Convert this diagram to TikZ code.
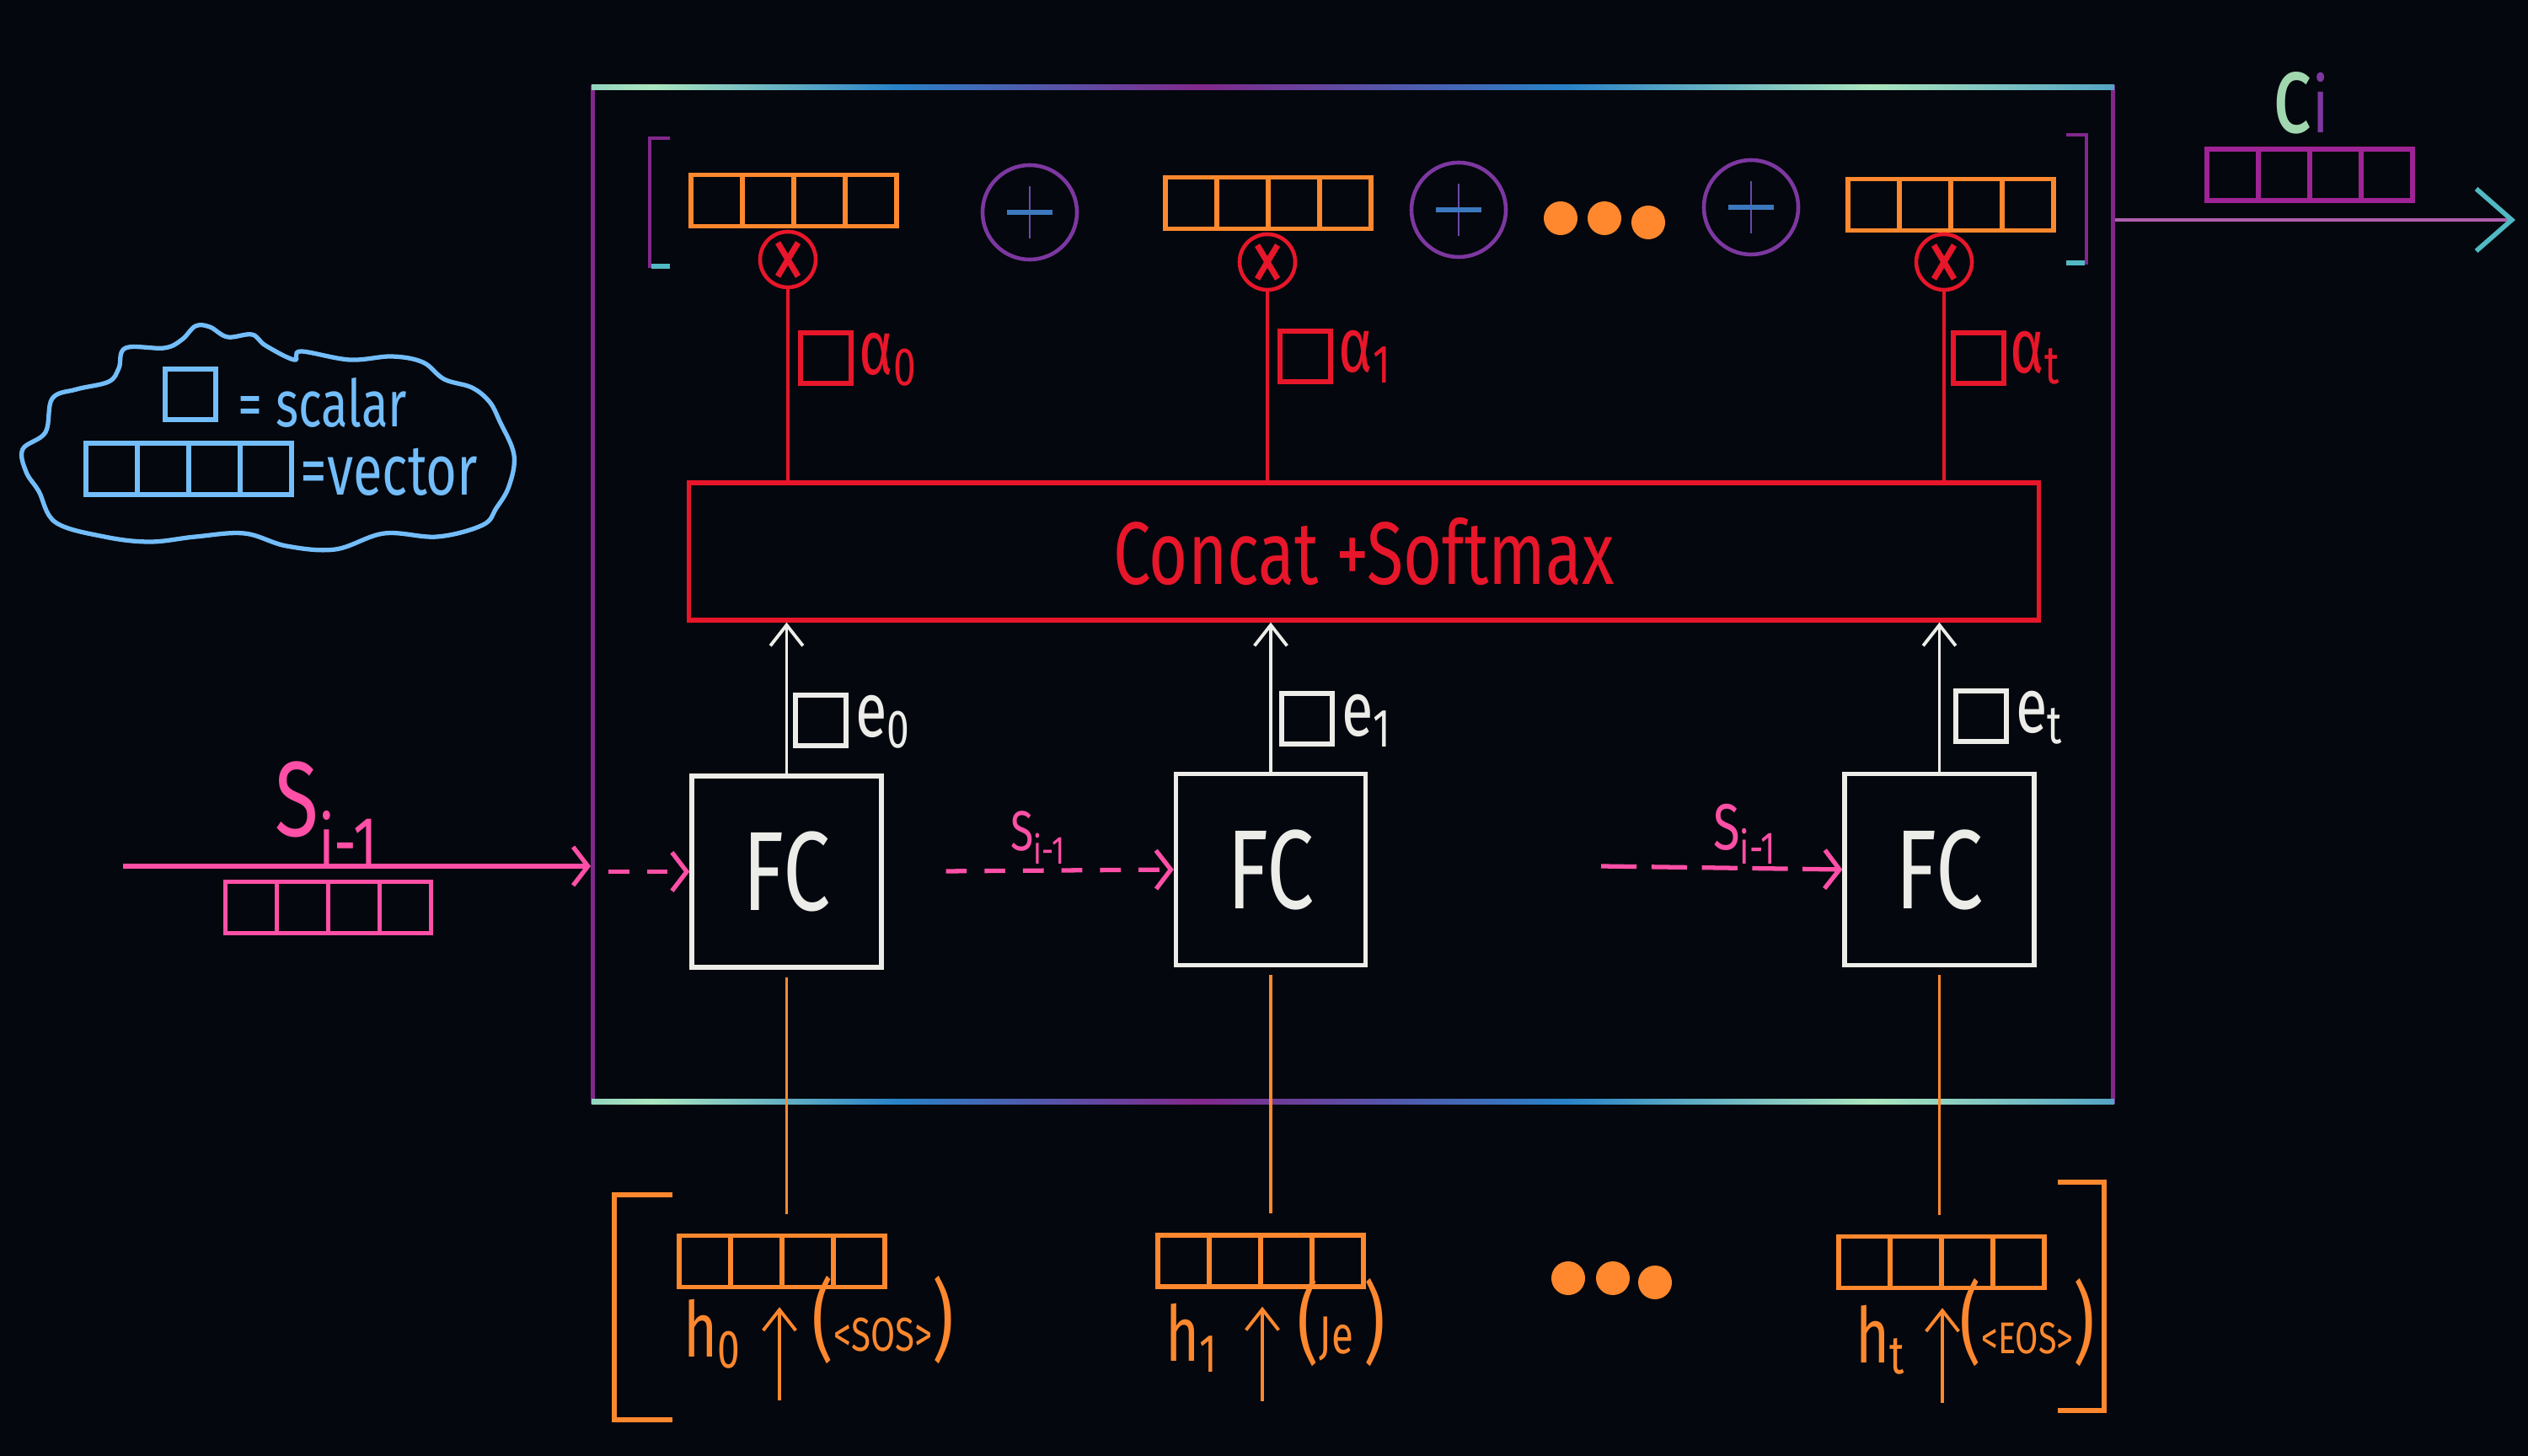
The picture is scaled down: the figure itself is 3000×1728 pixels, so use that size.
\documentclass[tikz,border=0pt]{standalone}
\usepackage{fontspec}
\setmainfont{Fira Sans}
\newfontfamily\hand[FakeStretch=0.75]{Fira Sans}
\newcommand\myfs[1]{\fontsize{#1}{#1}\selectfont}
\usetikzlibrary{arrows.meta,calc}
\definecolor{bg}{RGB}{4,7,13}
\definecolor{orng}{RGB}{255,136,46}
\definecolor{rd}{RGB}{232,22,42}
\definecolor{wht}{RGB}{236,236,232}
\definecolor{pnk}{RGB}{255,79,166}
\definecolor{lblue}{RGB}{115,189,251}
\definecolor{fpurple}{RGB}{130,40,140}
\definecolor{fblue}{RGB}{40,130,200}
\definecolor{fgreen}{RGB}{170,230,190}
\definecolor{fteal}{RGB}{80,185,195}
\definecolor{cpurp}{RGB}{125,55,160}
\definecolor{plusblue}{RGB}{60,120,190}
\definecolor{cmag}{RGB}{160,35,150}
\definecolor{cgreen}{RGB}{160,215,175}
\definecolor{outc}{RGB}{175,95,175}
\pgfdeclarehorizontalshading{frameshade}{100bp}{color(0bp)=(fpurple); color(16bp)=(fblue); color(27bp)=(fgreen); color(35bp)=(fblue); color(45bp)=(fpurple); color(57bp)=(fblue); color(67bp)=(fgreen); color(79bp)=(fblue); color(92bp)=(fpurple); color(100bp)=(fpurple)}
\tikzset{
  vecbox/.style={draw=#1, line width=1.5pt, minimum width=2.44cm, minimum height=0.61cm, inner sep=0pt,
    path picture={\foreach \k in {1,2,3}{\draw[#1, line width=1.5pt] ($(path picture bounding box.south west)!\k/4!(path picture bounding box.south east)$) -- ($(path picture bounding box.north west)!\k/4!(path picture bounding box.north east)$);}}},
  sqbox/.style={draw=#1, line width=1.5pt, minimum size=0.6cm, inner sep=0pt},
  multcirc/.style={circle, draw=rd, line width=1.3pt, minimum size=0.66cm, inner sep=0pt},
  pluscirc/.style={circle, draw=cpurp, line width=1.3pt, minimum size=1.12cm, inner sep=0pt},
  fcbox/.style={draw=wht, line width=1.5pt, minimum width=2.25cm, minimum height=2.27cm, inner sep=0pt, text=wht, font=\hand\myfs{38}},
  dotn/.style={circle, fill=orng, minimum size=0.4cm, inner sep=0pt},
  redline/.style={rd, line width=1pt},
  whitearrow/.style={wht, line width=1.1pt, -{Straight Barb[length=7pt,width=11pt]}},
  orangeline/.style={orng, line width=1pt},
  orangearrow/.style={orng, line width=1.1pt, -{Straight Barb[length=7pt,width=11pt]}},
  pinkarrow/.style={pnk, line width=1.5pt, -{Straight Barb[length=5pt,width=13pt]}},
  pinkdash/.style={pinkarrow, dash pattern=on 7pt off 6pt},
  lab/.style={inner sep=0pt, font=\hand},
}
\begin{document}
\begin{tikzpicture}[x=0.01cm,y=-0.01cm]
\fill[bg] (0,0) rectangle (3000,1728);
\useasboundingbox (0,0) rectangle (3000,1728);

% frame
\node[draw=fpurple, line width=1.4pt, minimum width=18.03cm, minimum height=12.03cm, inner sep=0pt] (frame) at (1605.5,705.5) {};
\shade[shading=frameshade] (702,101) rectangle (2509,107);
\shade[shading=frameshade] (702,1304) rectangle (2509,1310);

% top brackets
\draw[fpurple, line width=1.4pt] (795,164) -- (771,164) -- (771,316) -- (795,316);
\draw[fteal, line width=1.6pt] (773,316) -- (795,316);
\draw[fpurple, line width=1.4pt] (2452,160) -- (2476,160) -- (2476,312) -- (2452,312);
\draw[fteal, line width=1.6pt] (2474,312) -- (2452,312);

% top vectors, plus, dots
\node[vecbox=orng] (v1) at (942,238) {};
\node[vecbox=orng] (v2) at (1505,241) {};
\node[vecbox=orng] (v3) at (2315,243) {};
\node[pluscirc] (p1) at (1222,252) {};
\node[pluscirc] (p2) at (1731,249) {};
\node[pluscirc] (p3) at (2078,246) {};
\foreach \p in {p1,p2,p3}{
  \draw[cpurp!70!plusblue, line width=0.6pt] ($(\p.center)+(0,-31)$) -- ($(\p.center)+(0,31)$);
  \draw[plusblue, line width=1.8pt] ($(\p.center)+(-27,0)$) -- ($(\p.center)+(27,0)$);
}
\node[dotn] (td1) at (1852,259) {};
\node[dotn] (td2) at (1904,259) {};
\node[dotn] (td3) at (1956,264) {};

% multiply circles
\node[multcirc] (m1) at (935,308) {};
\node[multcirc] (m2) at (1504,311) {};
\node[multcirc] (m3) at (2307,311) {};
\foreach \m in {m1,m2,m3}{
  \draw[rd, line width=2pt] ($(\m.center)+(-12,-20)$) -- ($(\m.center)+(12,20)$);
  \draw[rd, line width=2pt] ($(\m.center)+(-12,20)$) -- ($(\m.center)+(12,-20)$);
}

% concat box
\node[draw=rd, line width=1.5pt, minimum width=16.01cm, minimum height=1.63cm, inner sep=0pt, text=rd] (cc) at (1618.5,654.5) {\hand\myfs{30}Concat +Softmax};

\draw[redline] (m1.south) -- (m1.south |- cc.north);
\draw[redline] (m2.south) -- (m2.south |- cc.north);
\draw[redline] (m3.south) -- (m3.south |- cc.north);

% alpha squares
\node[sqbox=rd] (a0) at (980,425) {};
\node[sqbox=rd] (a1) at (1549,423) {};
\node[sqbox=rd] (a2) at (2348,425) {};
\node[lab, text=rd, anchor=west] at ($(a0.east)+(6,2)$) {\myfs{26}α\textsubscript{0}};
\node[lab, text=rd, anchor=west] at ($(a1.east)+(6,0)$) {\myfs{26}α\textsubscript{1}};
\node[lab, text=rd, anchor=west] at ($(a2.east)+(4,0)$) {\myfs{26}α\textsubscript{t}};

% FC boxes
\node[fcbox] (f1) at (933.5,1034.5) {FC};
\node[fcbox] (f2) at (1508,1032) {FC};
\node[fcbox] (f3) at (2301.5,1032) {FC};

\draw[whitearrow] (f1.north) -- (f1.north |- cc.south);
\draw[whitearrow] (f2.north) -- (f2.north |- cc.south);
\draw[whitearrow] (f3.north) -- (f3.north |- cc.south);

% e squares
\node[sqbox=wht] (e0) at (974,855) {};
\node[sqbox=wht] (e1) at (1551,853) {};
\node[sqbox=wht] (e2) at (2351,850) {};
\node[lab, text=wht, anchor=west] at ($(e0.east)+(8,2)$) {\myfs{26}e\textsubscript{0}};
\node[lab, text=wht, anchor=west] at ($(e1.east)+(8,2)$) {\myfs{26}e\textsubscript{1}};
\node[lab, text=wht, anchor=west] at ($(e2.east)+(8,2)$) {\myfs{26}e\textsubscript{t}};

% input s_{i-1}
\coordinate (sin) at (146,1028);
\draw[pinkarrow] (sin) -- (frame.west |- sin);
\node[lab, text=pnk] at (388,968) {\myfs{36}S\textsubscript{i-1}};
\node[vecbox=pnk] (sv) at (389.5,1077) {};
\draw[pinkdash, shorten <=6pt] (frame.west |- f1.west) -- (f1.west);
\draw[pinkdash, shorten <=21pt] (f1.east) -- (f2.west);
\node[lab, text=pnk] at (1232,994) {\myfs{19}S\textsubscript{i-1}};
\coordinate (d3) at (1900,1028);
\draw[pinkarrow, dash pattern=on 12pt off 5pt] (d3) -- (f3.west);
\node[lab, text=pnk] at (2071,990) {\myfs{22}S\textsubscript{i-1}};

% bottom h vectors
\node[vecbox=orng] (h0) at (928,1497) {};
\node[vecbox=orng] (h1) at (1496,1496.5) {};
\node[vecbox=orng] (h2) at (2304,1498) {};
\draw[orangeline, shorten <=2.5pt, shorten >=6.5pt] (f1.south) -- (f1.south |- h0.north);
\draw[orangeline, shorten <=2.5pt, shorten >=6.5pt] (f2.south) -- (f2.south |- h1.north);
\draw[orangeline, shorten <=2.5pt, shorten >=6.5pt] (f3.south) -- (f3.south |- h2.north);

\coordinate (u0) at (925,1662);
\coordinate (u1) at (1498,1663);
\coordinate (u2) at (2305,1665);
\draw[orangearrow, shorten >=6pt] (u0) -- (u0 |- h0.south);
\draw[orangearrow, shorten >=6pt] (u1) -- (u1 |- h1.south);
\draw[orangearrow, shorten >=6pt] (u2) -- (u2 |- h2.south);

\node[lab, text=orng] at (846,1583) {\myfs{26}h\textsubscript{0}};
\node[lab, text=orng] at (1048,1567) {{\myfs{30}(}{\myfs{16}<SOS>}{\myfs{30})}};
\node[lab, text=orng] at (1415,1588) {\myfs{26}h\textsubscript{1}};
\node[lab, text=orng] at (1592,1570) {{\myfs{30}(}{\myfs{18}Je }{\myfs{30})}};
\node[lab, text=orng] at (2232,1590) {\myfs{26}h\textsubscript{t}};
\node[lab, text=orng] at (2406,1570) {{\myfs{30}(}{\myfs{15}<EOS>}{\myfs{30})}};

\node[dotn] (bd1) at (1861,1517) {};
\node[dotn] (bd2) at (1914,1517) {};
\node[dotn] (bd3) at (1964,1522) {};

% bottom brackets
\draw[orng, line width=1.5pt] (798,1418) -- (729,1418) -- (729,1685) -- (798,1685);
\draw[orng, line width=1.5pt] (2442,1403) -- (2497,1403) -- (2497,1674) -- (2442,1674);

% output c_i
\coordinate (cout) at (2985,261);
\draw[outc, line width=1.2pt, -{Straight Barb[length=12pt,width=21pt,color=fteal,line width=1.6pt]}] (frame.east |- cout) -- (cout);
\node[vecbox=cmag] (cv) at (2741,207.5) {};
\node[lab, anchor=base] at (2730,158) {\myfs{38}{\color{cgreen}c}\myfs{26}{\color{cpurp}i}};

% legend
\draw[lblue, line width=1.5pt] plot[smooth cycle, tension=0.6] coordinates {
 (232,387) (216,403) (195,413) (149,413) (141,437) (129,453) (91,462) (62,473) (54,513)
 (27,533) (31,560) (46,583) (66,620) (124,637) (178,643) (232,637) (290,633) (340,648)
 (398,652) (456,633) (519,637) (573,623) (589,603) (604,577) (610,540) (593,500)
 (581,477) (560,460) (527,450) (502,430) (465,423) (415,427) (357,417) (349,427)
 (315,410) (299,397) (270,400) (249,388)};
\node[sqbox=lblue] (lsq) at (226,468) {};
\node[lab, text=lblue, anchor=west] at (282,478) {\myfs{22}= scalar};
\node[vecbox=lblue] (lvec) at (224,556.5) {};
\node[lab, text=lblue, anchor=west] at (356,560) {\myfs{24}=vector};
\end{tikzpicture}
\end{document}
